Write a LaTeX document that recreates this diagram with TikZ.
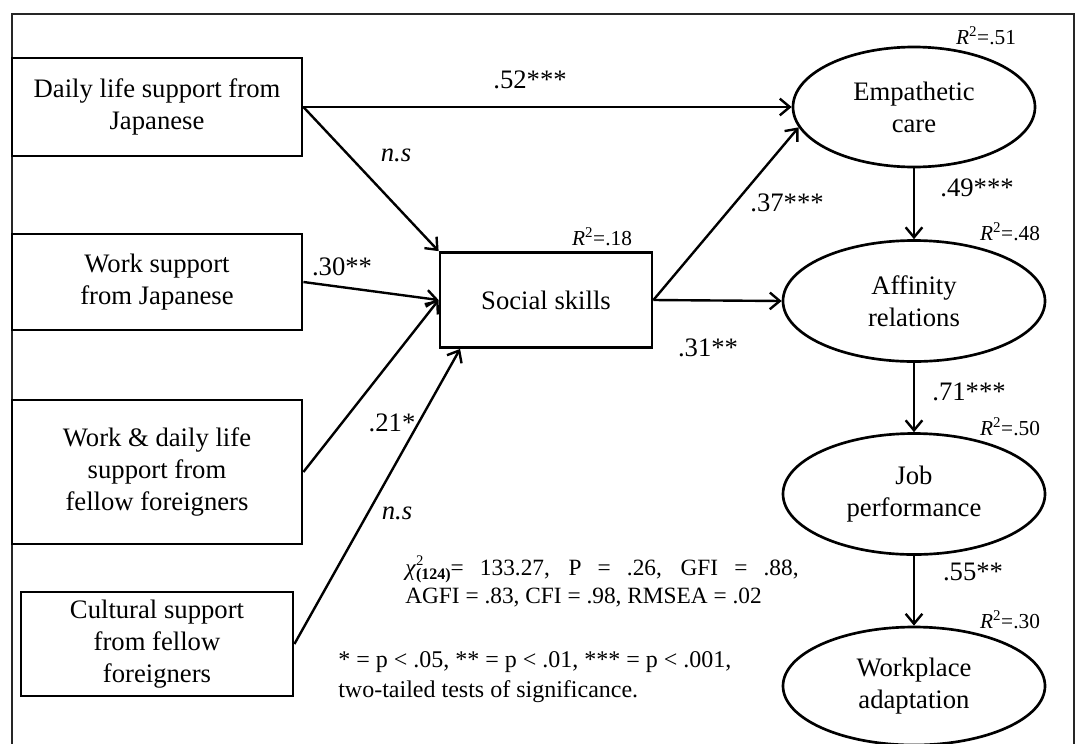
\documentclass[tikz,border=0pt]{standalone}
\usepackage{fontspec}
\setmainfont{Liberation Serif}
\usetikzlibrary{shapes.geometric,arrows.meta,calc}

\tikzset{
  box/.style={draw, rectangle, line width=2.1pt, align=center, inner sep=0pt,
    font=\fontsize{20}{24}\selectfont},
  latent/.style={draw, ellipse, line width=2pt, align=center, inner sep=0pt,
    minimum width=196.5pt, minimum height=90.75pt, font=\fontsize{20}{24}\selectfont},
  effect/.style={line width=1.8pt, -{Straight Barb[length=7.5pt,width=12.5pt]}},
  coef/.style={inner sep=0pt, font=\fontsize{20}{22}\selectfont},
  rsq/.style={inner sep=0pt, font=\fontsize{16}{18}\selectfont},
  note/.style={inner sep=0pt, align=left, anchor=north west},
}

\begin{document}
\begin{tikzpicture}[x=0.75pt, y=-0.75pt]
  \useasboundingbox (0,0) rectangle (1077,743);
  \draw[line width=1.1pt, black!85] (12,14) rectangle (1074,760);

  % Predictors
  \node[box, minimum width=217.5pt, minimum height=73.5pt] (daily) at (157,107) {Daily life support from\\Japanese};
  \node[box, minimum width=217.5pt, minimum height=72pt] (worksup) at (157,282) {Work support\\from Japanese};
  \node[box, minimum width=217.5pt, minimum height=108pt] (both) at (157,472) {Work \& daily life\\support from\\fellow foreigners};
  \node[box, minimum width=204pt, minimum height=78pt] (culture) at (157,644) {Cultural support\\from fellow\\foreigners};

  % Mediator and outcomes
  \node[box, minimum width=159pt, minimum height=71.25pt] (social) at (546,300) {Social skills};
  \node[latent, minimum width=181.5pt, minimum height=90pt] (empathy) at (914,107) {Empathetic\\care};
  \node[latent] (affinity) at (914,301) {Affinity\\relations};
  \node[latent] (jobperf) at (914,494) {Job\\performance};
  \node[latent, minimum height=88.5pt] (adapt) at (914,686) {Workplace\\adaptation};

  % Paths
  \draw[effect] (daily.east) -- (empathy.west);
  \draw[effect] (daily.east) -- (social.north west);
  \draw[effect] (worksup.east) -- (social.west);
  \draw[effect] (both.east) -- (social.west);
  \draw[effect] (culture.east) -- ($(social.south west)!0.1!(social.south east)$);
  \draw[effect] (social.east) -- (empathy.190);
  \draw[effect] (social.east) -- (affinity.west);
  \draw[effect] (empathy) -- (affinity);
  \draw[effect] (affinity) -- (jobperf);
  \draw[effect] (jobperf) -- (adapt);

  % Coefficients
  \node[coef] (c52) at (530,80) {.52***};
  \node[coef] (ns1) at (396,155) {\textit{n.s}};
  \node[coef] (c30) at (342,267) {.30**};
  \node[coef] (c21) at (392,423) {.21*};
  \node[coef] (ns2) at (397,513) {\textit{n.s}};
  \node[coef] (c37) at (787,203) {.37***};
  \node[coef] (c31) at (708,348) {.31**};
  \node[coef] (c49) at (977,188) {.49***};
  \node[coef] (c71) at (969,392) {.71***};
  \node[coef] (c55) at (973,572) {.55**};

  % Explained variance
  \node[rsq] (r51) at (986,36) {\textit{R}\textsuperscript{2}=.51};
  \node[rsq] (r18) at (602,237) {\textit{R}\textsuperscript{2}=.18};
  \node[rsq] (r48) at (1010,232) {\textit{R}\textsuperscript{2}=.48};
  \node[rsq] (r50) at (1010,427) {\textit{R}\textsuperscript{2}=.50};
  \node[rsq] (r30) at (1010,620) {\textit{R}\textsuperscript{2}=.30};

  % Fit and significance notes
  \node[note, font=\fontsize{17.5}{21}\selectfont] (fit) at (405,556)
    {\makebox[295pt][s]{\textit{χ}\rlap{\raisebox{0.9ex}{\fontsize{11}{11}\selectfont 2}}\raisebox{-0.4ex}{\fontsize{12}{12}\selectfont\bfseries (124)}= 133.27, P = .26, GFI = .88,}\\AGFI = .83, CFI = .98, RMSEA = .02};
  \node[note, font=\fontsize{18}{22.5}\selectfont] (sig) at (338,651)
    {* = p < .05, ** = p < .01, *** = p < .001,\\two-tailed tests of significance.};
\end{tikzpicture}
\end{document}
